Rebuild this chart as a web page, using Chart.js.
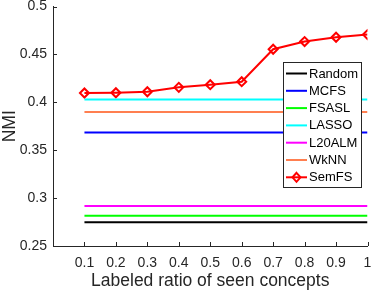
<!DOCTYPE html>
<html>
<head>
<meta charset="utf-8">
<script src="https://cdn.jsdelivr.net/npm/chart.js@4.4.1/dist/chart.umd.min.js"></script>
<style>
  html, body { margin: 0; padding: 0; background: #fff; }
  #wrap { width: 374px; height: 292px; }
</style>
</head>
<body>
<div id="wrap"><canvas id="chart" width="374" height="292"></canvas></div>
<script>
const ratios = [0.1, 0.2, 0.3, 0.4, 0.5, 0.6, 0.7, 0.8, 0.9, 1];
const methods = ["Random", "MCFS", "FSASL", "LASSO", "L20ALM", "WkNN"];
const baselineNmi = [0.2747, 0.3685, 0.2816, 0.403, 0.2917, 0.390];
const semfsNmi = [0.4097, 0.410, 0.411, 0.4156, 0.4184, 0.4215, 0.4554, 0.4634, 0.4679, 0.4707];
const yTicks = [0.25, 0.3, 0.35, 0.4, 0.45, 0.5];
const colors = ["#000000", "#0000ff", "#00ff00", "#00ffff", "#ff00ff", "#ff7f50"];

const textColor = "#262626";
const fontFamily = "'Liberation Sans', Arial, Helvetica, sans-serif";

const datasets = methods.map((name, i) => ({
    label: name,
    data: ratios.map(r => ({ x: r, y: baselineNmi[i] })),
    borderColor: colors[i],
    borderWidth: 2,
    pointRadius: 0,
    fill: false,
}));

datasets.push({
    label: "SemFS",
    data: ratios.map((r, i) => ({ x: r, y: semfsNmi[i] })),
    borderColor: "#ff0000",
    borderWidth: 2,
    pointStyle: "rectRot",
    pointRadius: 4.5,
    pointBorderWidth: 2,
    pointBackgroundColor: "rgba(0,0,0,0)",
    pointBorderColor: "#ff0000",
    fill: false,
});

// ticks inward + legend box inside plot
const matlabLook = {
    id: "matlabLook",
    afterDraw(chart) {
        const ctx = chart.ctx;
        const xs = chart.scales.x;
        const ys = chart.scales.y;
        const area = chart.chartArea;
        ctx.save();
        ctx.strokeStyle = textColor;
        ctx.lineWidth = 1;
        ratios.forEach(r => {
            const px = Math.round(xs.getPixelForValue(r)) + 0.5;
            ctx.beginPath();
            ctx.moveTo(px, area.bottom);
            ctx.lineTo(px, area.bottom - 4);
            ctx.stroke();
        });
        yTicks.forEach(v => {
            const py = Math.round(ys.getPixelForValue(v)) + 0.5;
            ctx.beginPath();
            ctx.moveTo(area.left, py);
            ctx.lineTo(area.left + 4, py);
            ctx.stroke();
        });

        // legend
        const bx = 283.5, by = 62.5, bw = 78, bh = 125;
        ctx.fillStyle = "#fff";
        ctx.fillRect(bx, by, bw, bh);
        ctx.strokeStyle = textColor;
        ctx.strokeRect(bx, by, bw, bh);
        ctx.font = "13px " + fontFamily;
        ctx.textBaseline = "middle";
        chart.data.datasets.forEach((ds, i) => {
            const cy = 73.5 + i * 17.3;
            ctx.strokeStyle = ds.borderColor;
            ctx.lineWidth = 2;
            ctx.beginPath();
            ctx.moveTo(286, cy);
            ctx.lineTo(307, cy);
            ctx.stroke();
            if (ds.pointStyle) {
                ctx.lineWidth = 2;
                ctx.beginPath();
                ctx.moveTo(296.5, cy - 4.5);
                ctx.lineTo(300.5, cy);
                ctx.lineTo(296.5, cy + 4.5);
                ctx.lineTo(292.5, cy);
                ctx.closePath();
                ctx.stroke();
            }
            ctx.fillStyle = "#000";
            ctx.fillText(ds.label, 309, cy + 0.5);
        });
        ctx.restore();
    }
};

new Chart(document.getElementById("chart").getContext("2d"), {
    type: "line",
    data: { datasets },
    options: {
        responsive: false,
        animation: false,
        layout: { padding: { top: 5, right: 5, left: 0, bottom: 0 } },
        plugins: {
            legend: { display: false },
            tooltip: { enabled: false },
        },
        scales: {
            x: {
                type: "linear",
                min: 0,
                max: 1,
                afterBuildTicks: scale => { scale.ticks = ratios.map(v => ({ value: v })); },
                afterFit: scale => {
                    scale.height = 46;
                    scale.paddingLeft = 0;
                    scale.paddingRight = 0;
                },
                grid: { drawOnChartArea: false, drawTicks: false },
                border: { color: textColor, width: 1 },
                ticks: {
                    color: textColor,
                    font: { size: 14, family: fontFamily },
                    padding: 9,
                    maxRotation: 0,
                    autoSkip: false,
                    callback: v => String(v),
                },
                title: {
                    display: true,
                    text: "Labeled ratio of seen concepts",
                    color: textColor,
                    font: { size: 17.5, family: fontFamily },
                    padding: { top: 3, bottom: 0 },
                },
            },
            y: {
                min: 0.25,
                max: 0.5,
                afterBuildTicks: scale => { scale.ticks = yTicks.map(v => ({ value: v })); },
                afterFit: scale => {
                    scale.width = 53;
                    scale.paddingTop = 0;
                    scale.paddingBottom = 0;
                },
                grid: { drawOnChartArea: false, drawTicks: false },
                border: { color: textColor, width: 1 },
                ticks: {
                    color: textColor,
                    font: { size: 14, family: fontFamily },
                    padding: 6,
                    callback: v => String(v),
                },
                title: {
                    display: true,
                    text: "NMI",
                    color: textColor,
                    font: { size: 17.5, family: fontFamily },
                    padding: { top: 0, bottom: 2 },
                },
            },
        },
    },
    plugins: [matlabLook],
});
</script>
</body>
</html>
